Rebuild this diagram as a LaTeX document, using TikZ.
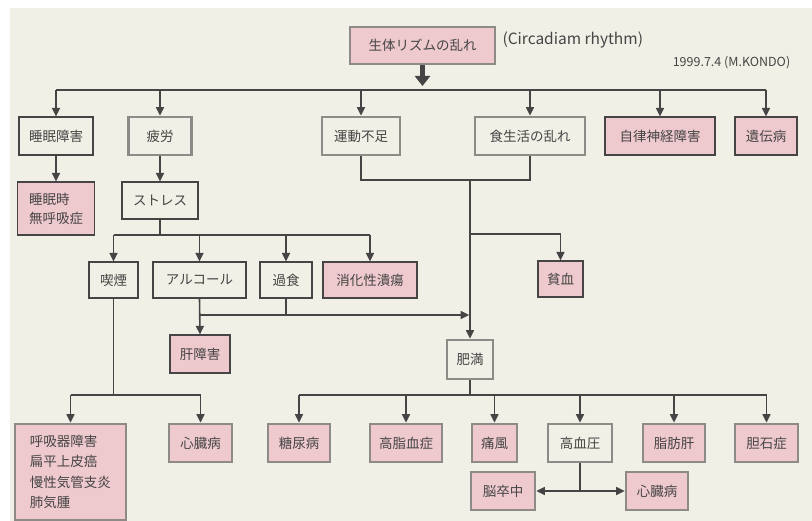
\documentclass[tikz,border=0pt]{standalone}
\usepackage{fontspec}
\setmainfont{Noto Sans CJK JP}
\usetikzlibrary{arrows.meta}

\definecolor{paper}{RGB}{241,240,231}
\definecolor{sickpink}{RGB}{238,202,207}
\definecolor{ink}{RGB}{70,68,68}
\definecolor{grain}{RGB}{142,138,136}

\begin{document}
\begin{tikzpicture}[x=1pt,y=-1pt,
  solidbox/.style={draw=ink, line width=1.2pt, fill=paper, text=ink, inner sep=0pt,
    minimum height=38pt, font=\fontsize{13.5}{19}\selectfont},
  roughbox/.style={solidbox, draw=grain, line width=2.8pt},
  sick/.style={fill=sickpink},
  wire/.style={draw=ink, line width=1.6pt},
  arr/.style={wire, -{Triangle[length=8.5pt,width=8pt]}},
  arrboth/.style={wire, {Triangle[length=8.5pt,width=8pt]}-{Triangle[length=8.5pt,width=8pt]}},
  bigarr/.style={draw=ink, line width=5pt, -{Triangle[length=10pt,width=15pt]}}]
\useasboundingbox (0,0) rectangle (812,521);
\fill [white] (0,0) rectangle (812,521);
\fill [paper] (10,8) rectangle (812,521);

% top
\node [roughbox, sick, minimum width=145pt, minimum height=37pt] (rhythm) at (422.5,45.5) {生体リズムの乱れ};
\node [anchor=west, text=ink, font=\fontsize{15.5}{17}\selectfont] (circ) at (499,40) {(Circadiam rhythm)};
\node [text=ink, font=\fontsize{12.5}{14}\selectfont] (date) at (731.5,63) {1999.7.4 (M.KONDO)};

% first row
\node [solidbox, minimum width=74pt] (sleep) at (56,136) {睡眠障害};
\node [roughbox, minimum width=63pt] (fatigue) at (160,136) {疲労};
\node [roughbox, minimum width=78pt] (exercise) at (361,136) {運動不足};
\node [roughbox, minimum width=110pt] (diet) at (530,136) {食生活の乱れ};
\node [solidbox, sick, minimum width=110pt] (autonomic) at (660,136) {自律神経障害};
\node [solidbox, sick, minimum width=62pt] (hered) at (766,136) {遺伝病};

% second row
\node [solidbox, sick, minimum width=77pt, minimum height=53pt, align=left] (apnea) at (56,208.5) {睡眠時\\無呼吸症};
\node [solidbox, minimum width=76pt, minimum height=37pt] (stress) at (160,200.5) {ストレス};

% third row
\node [solidbox, minimum width=49pt, minimum height=36pt] (smoke) at (113.5,280) {喫煙};
\node [solidbox, minimum width=93pt, minimum height=36pt] (alcohol) at (199.5,280) {アルコール};
\node [solidbox, minimum width=52pt, minimum height=36pt] (overeat) at (286,280) {過食};
\node [solidbox, sick, minimum width=94pt, minimum height=36pt] (ulcer) at (370,280) {消化性潰瘍};
\node [solidbox, sick, minimum width=45pt, minimum height=36pt] (anemia) at (560.5,279) {貧血};
\node [solidbox, sick, minimum width=60pt] (liver) at (200,354) {肝障害};
\node [roughbox, minimum width=46pt, minimum height=39pt] (obese) at (470,359.5) {肥満};

% fourth row
\node [roughbox, sick, minimum width=111pt, minimum height=96pt, align=left,
  font=\fontsize{13.5}{20.5}\selectfont] (resp) at (70.5,472) {呼吸器障害\\扁平上皮癌\\慢性気管支炎\\肺気腫};
\node [roughbox, sick, minimum width=63pt] (heartA) at (200.5,443) {心臓病};
\node [roughbox, sick, minimum width=62pt] (diabetes) at (299,443) {糖尿病};
\node [roughbox, sick, minimum width=72pt] (lipid) at (406,443) {高脂血症};
\node [roughbox, sick, minimum width=45pt] (gout) at (494.5,443) {痛風};
\node [roughbox, minimum width=64pt] (hyper) at (580,443) {高血圧};
\node [roughbox, sick, minimum width=62pt] (fatty) at (674,443) {脂肪肝};
\node [roughbox, sick, minimum width=63pt] (gall) at (766.5,443) {胆石症};
\node [roughbox, sick, minimum width=64pt] (stroke) at (503,491) {脳卒中};
\node [roughbox, sick, minimum width=62pt] (heartB) at (657,491) {心臓病};

% connectors
\coordinate (bigtip) at (422.5,86);
\coordinate (bus) at (422.5,90);
\draw [bigarr] (rhythm.south) -- (bigtip);
\draw [wire] (sleep.north |- bus) -- (hered.north |- bus);
\draw [arr] (sleep.north |- bus) -- (sleep.north);
\draw [arr] (fatigue.north |- bus) -- (fatigue.north);
\draw [arr] (exercise.north |- bus) -- (exercise.north);
\draw [arr] (diet.north |- bus) -- (diet.north);
\draw [arr] (autonomic.north |- bus) -- (autonomic.north);
\draw [arr] (hered.north |- bus) -- (hered.north);

\draw [arr] (sleep.south) -- (apnea.north);
\draw [arr] (fatigue.south) -- (stress.north);

\coordinate (junc) at (470,180);
\coordinate (anj) at (470,234);
\draw [wire] (exercise.south) |- (junc) -| (diet.south);
\draw [arr] (junc) -- (obese.north);
\draw [arr] (anj) -| (anemia.north);

\coordinate (sbus) at (160,235);
\draw [wire] (stress.south) -- (sbus);
\draw [wire] (smoke.north |- sbus) -- (ulcer.north |- sbus);
\draw [arr] (smoke.north |- sbus) -- (smoke.north);
\draw [arr] (alcohol.north |- sbus) -- (alcohol.north);
\draw [arr] (overeat.north |- sbus) -- (overeat.north);
\draw [arr] (ulcer.north |- sbus) -- (ulcer.north);

\coordinate (lj) at (199.5,315);
\draw [arr] (alcohol.south) -- (liver.north);
\draw [wire] (overeat.south) -- (overeat.south |- lj);
\draw [arr, shorten >=0.8pt] (lj) -- (junc |- lj);

\coordinate (lbus) at (113.5,395);
\draw [wire] (smoke.south) -- (lbus);
\draw [wire] (resp.north |- lbus) -- (heartA.north |- lbus);
\draw [arr] (resp.north |- lbus) -- (resp.north);
\draw [arr] (heartA.north |- lbus) -- (heartA.north);

\coordinate (obus) at (470,395);
\draw [wire] (obese.south) -- (obus);
\draw [wire] (diabetes.north |- obus) -- (gall.north |- obus);
\draw [arr] (diabetes.north |- obus) -- (diabetes.north);
\draw [arr] (lipid.north |- obus) -- (lipid.north);
\draw [arr] (gout.north |- obus) -- (gout.north);
\draw [arr] (hyper.north |- obus) -- (hyper.north);
\draw [arr] (fatty.north |- obus) -- (fatty.north);
\draw [arr] (gall.north |- obus) -- (gall.north);

\coordinate (hj) at (580,491);
\draw [wire] (hyper.south) -- (hj);
\draw [arrboth] (stroke.east) -- (heartB.west);
\end{tikzpicture}
\end{document}
